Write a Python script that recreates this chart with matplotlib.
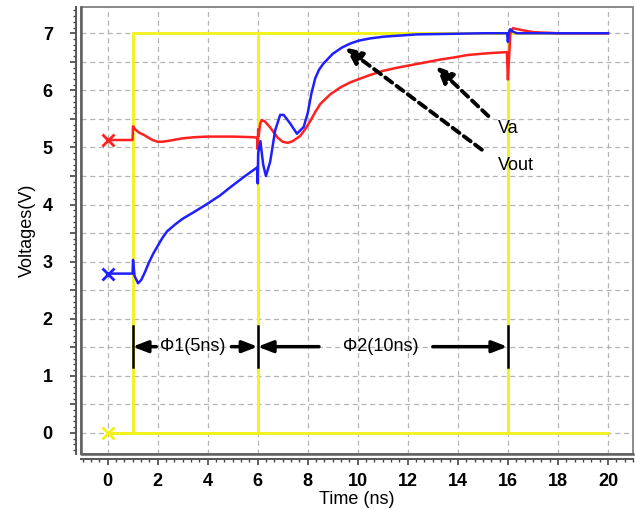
import numpy as np
import matplotlib
matplotlib.use("Agg")
import matplotlib.pyplot as plt
from matplotlib.ticker import MultipleLocator, FuncFormatter
from matplotlib.patches import Rectangle

plt.rcParams['font.family'] = ['Liberation Sans', 'DejaVu Sans']

# ---- data ----
# clock signals (yellow)
clk1_t = [0, 1, 1, 20]
clk1_v = [0, 0, 7, 7]
clk2_t = [0, 6, 6, 16, 16, 20]
clk2_v = [0, 0, 7, 7, 0, 0]
clk3_t = [0, 16, 16, 20]
clk3_v = [0, 0, 7, 7]

# red curve (Va)
red_t = [0, 1.0, 1.02, 1.1, 1.2, 1.3, 1.45, 1.6, 1.8, 2.0, 2.2, 2.5, 3.0, 3.5, 4.0, 5.0, 5.8, 5.98,
         6.0, 6.02, 6.04, 6.1, 6.17, 6.3, 6.5, 6.8, 7.0, 7.2, 7.4, 7.7, 7.9, 8.1, 8.3, 8.5,
         8.9, 9.3, 9.7, 10.0, 10.5, 11.0, 11.5, 12.1, 12.7, 13.3, 13.9, 14.4, 15.2, 15.96, 16.0, 16.05, 16.1,
         16.2, 16.5, 17.0, 17.5, 18.0, 19.0, 20.0]
red_v = [5.13, 5.13, 5.37, 5.32, 5.28, 5.25, 5.22, 5.18, 5.13, 5.1, 5.1, 5.12, 5.16, 5.18, 5.19, 5.19, 5.18, 5.17,
         4.97, 5.32, 5.2, 5.42, 5.48, 5.45, 5.35, 5.17, 5.1, 5.08, 5.11, 5.2, 5.32, 5.46, 5.62, 5.76,
         5.93, 6.05, 6.14, 6.19, 6.27, 6.34, 6.39, 6.44, 6.49, 6.54, 6.58, 6.62, 6.65, 6.67, 6.19, 6.6, 7.0,
         7.09, 7.06, 7.02, 7.01, 7.0, 7.0, 7.0]

# blue curve (Vout)
blue_t = [0, 1.0, 1.02, 1.08, 1.22, 1.35, 1.5, 1.65, 1.84, 2.0, 2.2, 2.38, 2.7, 3.0, 3.5, 3.98, 4.5, 4.9, 5.5, 5.98,
          6.0, 6.02, 6.11, 6.22, 6.33, 6.5, 6.7, 6.9, 7.04, 7.3, 7.57, 7.84, 8.0, 8.15, 8.3, 8.45,
          8.63, 9.0, 9.37, 9.7, 10.03, 10.5, 11.03, 11.7, 12.36, 13.7, 15.0, 15.97, 16.0, 16.03, 16.09,
          16.2, 16.35, 17.0, 18.0, 20.0]
blue_v = [2.79, 2.79, 3.03, 2.75, 2.62, 2.68, 2.82, 2.98, 3.15, 3.27, 3.42, 3.53, 3.65, 3.75, 3.88, 4.01, 4.16, 4.3, 4.5, 4.65,
          4.37, 4.9, 5.11, 4.7, 4.5, 4.75, 5.3, 5.57, 5.57, 5.42, 5.24, 5.36, 5.6, 5.95, 6.21, 6.36,
          6.47, 6.64, 6.75, 6.82, 6.87, 6.91, 6.94, 6.96, 6.98, 6.99, 7.0, 7.0, 6.85, 7.0, 7.07,
          7.03, 7.0, 7.0, 7.0, 7.0]

# initial-value markers
mark_v = {'yellow': 0.0, 'red': 5.13, 'blue': 2.79}

# ---- figure ----
fig = plt.figure(figsize=(6.36, 5.09), dpi=100)
ax = fig.add_axes([81/636, 55/509, (633-81)/636, (454-7)/509])
ax.set_xlim(-1.06, 21.0)
ax.set_ylim(-0.37, 7.46)

YEL = '#f2f21a'
RED = '#ff2020'
BLU = '#1f1fff'

# grid
ax.xaxis.set_major_locator(MultipleLocator(2))
ax.xaxis.set_minor_locator(MultipleLocator(1/3))
ax.yaxis.set_major_locator(MultipleLocator(0.5))
ax.yaxis.set_minor_locator(MultipleLocator(0.1))
ax.yaxis.set_major_formatter(FuncFormatter(lambda v, p: f"{int(round(v))}" if abs(v - round(v)) < 1e-6 else ""))
ax.grid(True, which='major', color='#b4b4b4', linestyle=(0, (4, 3)), linewidth=0.9)
ax.set_axisbelow(True)

# curves
for t, v in [(clk1_t, clk1_v), (clk2_t, clk2_v), (clk3_t, clk3_v)]:
    ax.plot(t, v, color=YEL, lw=2.0, solid_joinstyle='miter', zorder=2)
ax.plot(red_t, red_v, color=RED, lw=1.8, zorder=3)
ax.plot(blue_t, blue_v, color=BLU, lw=1.8, zorder=4)
ax.plot([0], [mark_v['yellow']], marker='x', ms=8, mew=2, color=YEL, zorder=5)
ax.plot([0], [mark_v['red']], marker='x', ms=8, mew=2, color=RED, zorder=5)
ax.plot([0], [mark_v['blue']], marker='x', ms=8, mew=2, color=BLU, zorder=5)

# phase annotations
for tb in [1, 6, 16]:
    ax.plot([tb, tb], [1.16, 1.87], color='black', lw=1.8, zorder=6)
ap = dict(arrowstyle='-|>,head_length=0.9,head_width=0.35', color='black', lw=2.5,
          shrinkA=0, shrinkB=0)
ax.annotate('', xy=(1.0, 1.51), xytext=(1.95, 1.51), arrowprops=ap, zorder=6)
ax.annotate('', xy=(6.0, 1.51), xytext=(4.95, 1.51), arrowprops=ap, zorder=6)
ax.annotate('', xy=(6.0, 1.51), xytext=(8.45, 1.51), arrowprops=ap, zorder=6)
ax.annotate('', xy=(15.98, 1.51), xytext=(13.0, 1.51), arrowprops=ap, zorder=6)
ax.text(3.42, 1.51, 'Φ1(5ns)', ha='center', va='center', fontsize=13)
ax.text(10.93, 1.51, 'Φ2(10ns)', ha='center', va='center', fontsize=13)

# signal labels with dashed arrows
dp = dict(arrowstyle='-|>,head_length=1.0,head_width=0.45', color='black', lw=2.8,
          linestyle=(0, (2.2, 1.4)), shrinkA=0, shrinkB=0)
ax.annotate('', xy=(13.13, 6.42), xytext=(15.22, 5.55), arrowprops=dp, zorder=7)
ax.annotate('', xy=(9.5, 6.75), xytext=(14.96, 4.96), arrowprops=dp, zorder=7)
ax.text(15.6, 5.33, 'Va', ha='left', va='center', fontsize=13)
ax.text(15.6, 4.68, 'Vout', ha='left', va='center', fontsize=13)

# frame and offset axes
for s in ['top', 'right']:
    ax.spines[s].set_visible(False)
ax.spines['left'].set_position(('outward', 3.3))
ax.spines['bottom'].set_position(('outward', 3.6))
for s in ['left', 'bottom']:
    ax.spines[s].set_color('#555555')
    ax.spines[s].set_linewidth(1.4)
ax.add_patch(Rectangle((0, 0), 1, 1, transform=ax.transAxes, fill=False,
                       edgecolor='#808080', lw=1.3, zorder=10, clip_on=False))
ax.plot([0, 0, 1], [1, 0, 0], transform=ax.transAxes, color='#606060', lw=1.8,
        zorder=11, clip_on=False)

ax.tick_params(axis='both', which='major', length=4, width=1.2, color='#444444',
               labelsize=13)
ax.tick_params(axis='both', which='minor', length=2.5, width=1.0, color='#444444')
ax.tick_params(axis='y', which='major', pad=13)
ax.tick_params(axis='x', which='major', pad=6)
for lab in ax.get_xticklabels() + ax.get_yticklabels():
    lab.set_fontweight('bold')

ax.set_xlabel('Time (ns)', fontsize=13, labelpad=1)
ax.set_ylabel('Voltages(V)', fontsize=13, labelpad=5)

fig.savefig('out.png', dpi=100)
